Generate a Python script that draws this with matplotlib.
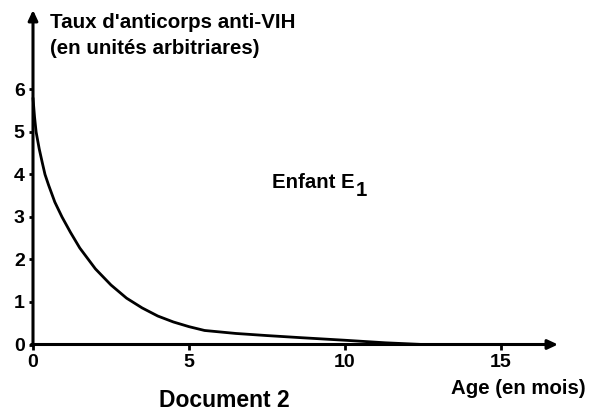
import numpy as np
import matplotlib
matplotlib.use("Agg")
from matplotlib import pyplot as plt

plt.rcParams['font.family'] = ['Liberation Sans', 'DejaVu Sans']
plt.rcParams['font.weight'] = 'bold'

# values (age in months, antibody level)
age = [0, 0.05, 0.1, 0.2, 0.3, 0.385, 0.5, 0.7, 0.93, 1.2, 1.5, 2.0, 2.5, 3.0,
       3.5, 4.0, 4.5, 5.0, 5.5, 6.5, 7.5, 8.6, 10.0, 11.3, 12.5]
taux = [5.8, 5.35, 5.0, 4.6, 4.27, 4.0, 3.75, 3.35, 3.0, 2.64, 2.27, 1.78, 1.40, 1.09,
        0.86, 0.67, 0.53, 0.42, 0.33, 0.26, 0.21, 0.16, 0.10, 0.04, 0.0]
xticks = [0, 5, 10, 15]
yticks = [0, 1, 2, 3, 4, 5, 6]

W, H = 593, 411
fig = plt.figure(figsize=(W / 100, H / 100), dpi=100)
ax = fig.add_axes([33 / W, 66.5 / H, 525 / W, 334.5 / H])
ax.set_xlim(0, 16.83)
ax.set_ylim(0, 7.87)
for s in ax.spines.values():
    s.set_visible(False)

# axes drawn as arrows
arr = dict(arrowstyle='-|>,head_length=0.6,head_width=0.28', lw=2.2, color='black',
           shrinkA=0, shrinkB=0)
ax.annotate('', xy=(16.83, 0), xytext=(-0.05, 0), arrowprops=arr, annotation_clip=False)
ax.annotate('', xy=(0, 7.87), xytext=(0, -0.03), arrowprops=arr, annotation_clip=False)

ax.plot(age, taux, color='black', lw=2.0, solid_capstyle='round',
        solid_joinstyle='round', clip_on=False)

ax.set_xticks(xticks)
ax.set_yticks(yticks)
ax.tick_params(axis='x', direction='out', length=3.5, width=2, labelsize=14, pad=3)
ax.tick_params(axis='y', direction='out', length=3, width=2, labelsize=14, pad=3)
for lab in ax.get_xticklabels() + ax.get_yticklabels():
    lab.set_fontweight('bold')


def ftxt(x, y, s, size=14.5, **kw):
    fig.text(x / W, 1 - y / H, s, fontsize=size, fontweight='bold', **kw)


ftxt(50, 22, "Taux d'anticorps anti-VIH", ha='left', va='center', size=14.8)
ftxt(50, 48, "(en unités arbitriares)", ha='left', va='center', size=14.8)
ftxt(272, 182, "Enfant E", ha='left', va='center', size=14.7)
ftxt(356, 190, "1", ha='left', va='center', size=14.7)
ftxt(586, 388, "Age (en mois)", ha='right', va='center', size=14.7)
ftxt(224, 400, "Document 2", ha='center', va='center', size=16.5)

fig.savefig('out.png', dpi=100)
